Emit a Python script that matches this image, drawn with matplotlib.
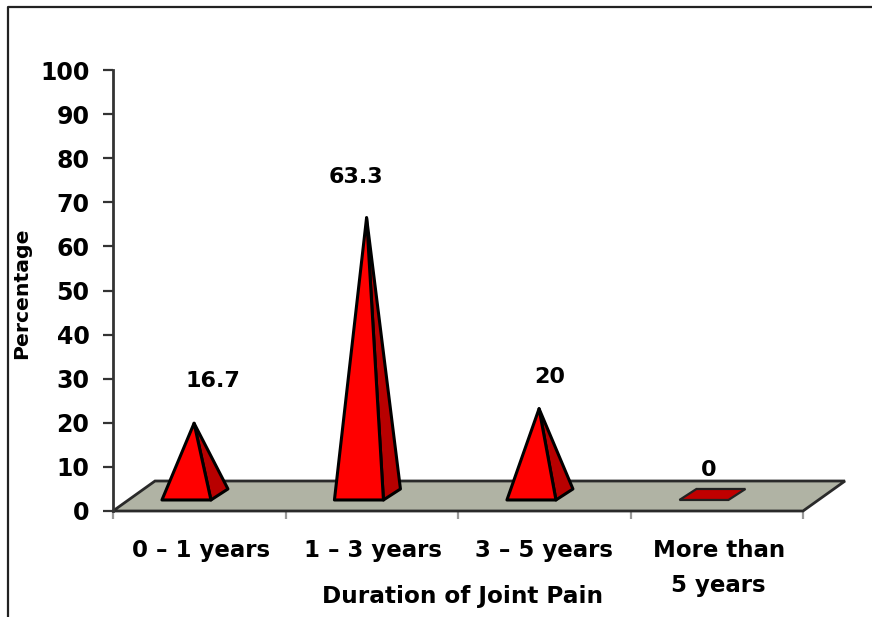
import numpy as np
import matplotlib
matplotlib.use('Agg')
import matplotlib.pyplot as plt
from matplotlib.patches import Polygon
from matplotlib.lines import Line2D

plt.rcParams['font.family'] = ['DejaVu Sans']
plt.rcParams['font.weight'] = 'bold'

categories = ['0 – 1 years', '1 – 3 years', '3 – 5 years', 'More than\n5 years']
values = [16.7, 63.3, 20, 0]
value_labels = ['16.7', '63.3', '20', '0']
y_ticks = list(range(0, 101, 10))

W, H = 872, 617
fig = plt.figure(figsize=(W / 100, H / 100), dpi=100)

# axes box sits where the chart's plot area is, in pixels
left, right, bottom, top = 113, 803, 511, 70
ax = fig.add_axes([left / W, 1 - bottom / H, (right - left) / W, (bottom - top) / H])
ax.set_xlim(0, 4)
ax.set_ylim(0, 100)

# fake 3d depth, data units per px
ux = 4 / (right - left)
uy = 100 / (bottom - top)
floor_dx, floor_dy = 42 * ux, 30 * uy
base_dx, base_dy = 17 * ux, 11 * uy
half_w = 24.5 * ux
lift = 0.7

# value labels are not centred on the pyramids, px offsets from the apex
label_dx = [18, -12, 10, -4]
label_dy = [42, 41, 32, 19]
cat_dx = [2, 1, 0, 2]

# outer frame, left and top only
fig.add_artist(Line2D([8 / W, 8 / W, 1], [0, 1 - 7 / H, 1 - 7 / H], transform=fig.transFigure,
                      color='#222222', lw=1.6))

# floor
ax.add_patch(Polygon([(0, 0), (4, 0), (4 + floor_dx, floor_dy), (floor_dx, floor_dy)],
                     closed=True, fc='#b0b3a4', ec='#2a2a2a', lw=2, clip_on=False, zorder=2))

for i, v in enumerate(values):
    cx = i + 0.475
    y0 = 2.5
    fl = (cx - half_w - base_dx / 2, y0)
    fr = (cx + half_w - base_dx / 2, y0)
    br = (fr[0] + base_dx, y0 + base_dy)
    if v == 0:
        bl = (fl[0] + base_dx, y0 + base_dy)
        ax.add_patch(Polygon([fl, fr, br, bl], closed=True, fc='#c00000', ec='#222222', lw=1.6, zorder=3))
        top_y = y0 + base_dy
    else:
        apex = (cx - 0.005, y0 + lift + v)
        ax.add_patch(Polygon([fr, br, apex], closed=True, fc='#b80000', ec='black', lw=2.2,
                             joinstyle='round', zorder=3))
        ax.add_patch(Polygon([fl, fr, apex], closed=True, fc='#ff0000', ec='black', lw=2.2,
                             joinstyle='round', zorder=4))
        top_y = apex[1]
    ax.annotate(value_labels[i], (cx, top_y), xytext=(label_dx[i], label_dy[i]), textcoords='offset pixels',
                ha='center', va='center', fontsize=16, fontweight='bold', color='black')

for s in ['top', 'right', 'bottom']:
    ax.spines[s].set_visible(False)
ax.spines['left'].set_color('#333333')
ax.spines['left'].set_linewidth(2)

ax.set_yticks(y_ticks)
ax.set_xticks(range(5))
ax.set_xticklabels([])
ax.tick_params(axis='y', length=7, width=1.6, color='#333333', labelsize=17, pad=10, labelcolor='black')
ax.tick_params(axis='x', length=6, width=1.6, color='#999999')

for i, c in enumerate(categories):
    ax.annotate(c, (i + 0.5, 0), xytext=(cat_dx[i], -28), textcoords='offset pixels', ha='center', va='top',
                fontsize=16.5, fontweight='bold', color='black', linespacing=1.65, annotation_clip=False)

fig.text(462 / W, 1 - 597 / H, 'Duration of Joint Pain', ha='center', va='center',
         fontsize=16.7, fontweight='bold', color='black')
fig.text(22 / W, 1 - 293 / H, 'Percentage', ha='center', va='center', rotation=90,
         fontsize=14.7, fontweight='bold', color='black')

plt.savefig('out.png', dpi=100)
